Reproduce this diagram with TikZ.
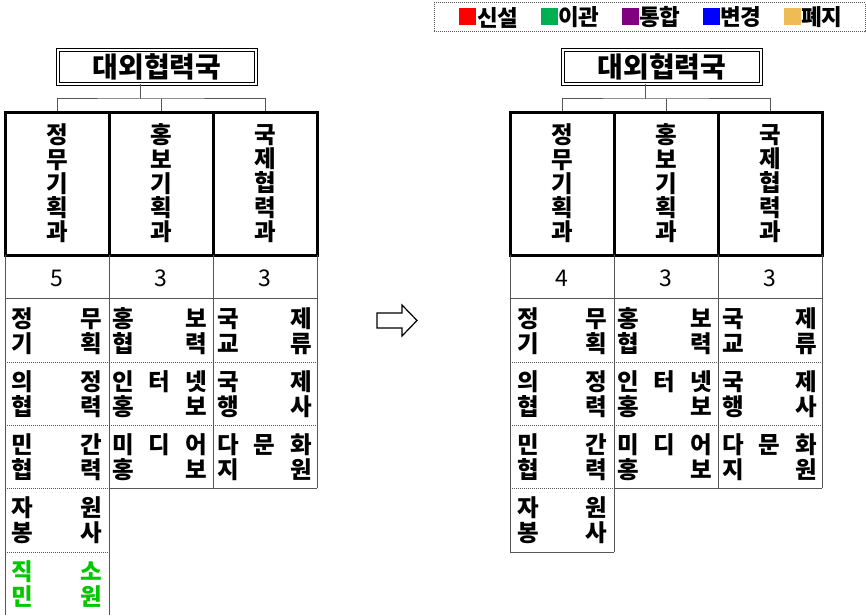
\documentclass[tikz,border=0pt]{standalone}
\usepackage{fontspec}
\setmainfont{Noto Sans CJK KR}
\definecolor{lgray}{RGB}{85,85,85}
\definecolor{cgreen}{RGB}{0,176,80}
\definecolor{cpurple}{RGB}{128,0,128}
\definecolor{corange}{RGB}{238,188,84}
\definecolor{tgreen}{RGB}{0,200,0}
\tikzset{
  thinline/.style={draw=lgray, line width=1pt},
  dotsep/.style={draw=lgray, line width=1pt, dash pattern=on 1pt off 1pt},
  hdrbox/.style={draw=black, line width=3pt, minimum width=104pt, minimum height=143pt, inner sep=0pt, align=center, font=\fontsize{23.5}{24.3}\selectfont\bfseries},
  titlebox/.style={draw=black, double=white, line width=0.8pt, double distance=1.6pt, minimum width=198pt, minimum height=34pt, inner sep=0pt, font=\fontsize{28}{30}\selectfont\bfseries},
  cnttext/.style={inner sep=0pt, font=\fontsize{23}{26}\selectfont},
  celltext/.style={inner sep=0pt, align=left, font=\fontsize{23.5}{25.5}\selectfont\bfseries},
  legsq/.style={minimum size=17pt, inner sep=0pt},
  legtext/.style={anchor=west, inner sep=0pt, font=\fontsize{22.5}{24}\selectfont\bfseries},
  legframe/.style={draw=lgray, line width=1pt, dash pattern=on 1pt off 1pt, minimum width=431pt, minimum height=29pt, inner sep=0pt},
}
\newcommand\jcell[7][]{%
  \pgfmathsetmacro\cw{#4-#3}%
  \node[celltext,text width=\cw pt,#1] (#2) at ({(#3+#4)/2},#5) {\hbox to \cw pt{#6}\\\hbox to \cw pt{#7}};%
}
\newcommand\orgside[3]{%
  \node[titlebox] (#1-title) at (157,67) {대외협력국};
  \node[hdrbox] (#1-h1) at (57,183.5) {정\\무\\기\\획\\과};
  \node[hdrbox] (#1-h2) at (161,183.5) {홍\\보\\기\\획\\과};
  \node[hdrbox] (#1-h3) at (265,183.5) {국\\제\\협\\력\\과};
  \coordinate (#1-hub) at (140,99);
  \draw[thinline] (#1-hub |- #1-title.south) -- (#1-hub);
  \draw[thinline] (#1-h1.north) |- (#1-hub) -| (#1-h3.north);
  \draw[thinline] (#1-h2.north) -- (#1-h2.north |- #1-hub);
  \draw[thinline] (5,255) -- (5,#3) (109,255) -- (109,#3)
                  (213,255) -- (213,488) (317,255) -- (317,488)
                  (5,298) -- (317,298) (109,488) -- (317,488);
  \draw[dotsep] (5,362) -- (317,362) (5,425) -- (317,425) (5,488) -- (109,488);
  \node[cnttext] (#1-n1) at (57,278) {#2};
  \node[cnttext] (#1-n2) at (161,278) {3};
  \node[cnttext] (#1-n3) at (265,278) {3};
  \jcell{#1-a1}{12}{102}{331}{정\hfill 무}{기\hfill 획}
  \jcell{#1-a2}{12}{102}{394}{의\hfill 정}{협\hfill 력}
  \jcell{#1-a3}{12}{102}{457}{민\hfill 간}{협\hfill 력}
  \jcell{#1-a4}{12}{102}{520}{자\hfill 원}{봉\hfill 사}
  \jcell{#1-b1}{112}{207}{331}{홍\hfill 보}{협\hfill 력}
  \jcell{#1-b2}{112}{207}{394}{인\hfill 터\hfill 넷}{홍\hfill 보}
  \jcell{#1-b3}{112}{207}{457}{미\hfill 디\hfill 어}{홍\hfill 보}
  \jcell{#1-c1}{217}{312}{331}{국\hfill 제}{교\hfill 류}
  \jcell{#1-c2}{217}{312}{394}{국\hfill 제}{행\hfill 사}
  \jcell{#1-c3}{217}{312}{457}{다\hfill 문\hfill 화}{지\hfill 원}
}
\begin{document}
\begin{tikzpicture}[x=1pt,y=-1pt]
  \fill[white] (0,0) rectangle (866,615);
  \useasboundingbox (0,0) rectangle (866,615);
  % legend
  \node[legframe] (legend) at (649.5,17.5) {};
  \node[legsq, fill=red] (sq1) at (467.5,17) {};
  \node[legtext] (lt1) at (477,17.5) {신설};
  \node[legsq, fill=cgreen] (sq2) at (549,17) {};
  \node[legtext] (lt2) at (558,17.5) {이관};
  \node[legsq, fill=cpurple] (sq3) at (630.5,17) {};
  \node[legtext] (lt3) at (639,17.5) {통합};
  \node[legsq, fill=blue] (sq4) at (711.5,17) {};
  \node[legtext] (lt4) at (720,17.5) {변경};
  \node[legsq, fill=corange] (sq5) at (792.5,17) {};
  \node[legtext] (lt5) at (801,17.5) {폐지};
  % left chart
  \orgside{L}{5}{615}
  \draw[dotsep] (5,552) -- (109,552);
  \jcell[text=tgreen]{L-a5}{12}{102}{584}{직\hfill 소}{민\hfill 원}
  % arrow
  \draw[line width=1.2pt, line join=miter] (377,313) -- (402,313) -- (402,305) -- (417,320.5) -- (402,336) -- (402,328) -- (377,328) -- cycle;
  % right chart
  \begin{scope}[xshift=505pt]
    \orgside{R}{4}{552}
    \draw[thinline] (5,552) -- (109,552);
  \end{scope}
\end{tikzpicture}
\end{document}
